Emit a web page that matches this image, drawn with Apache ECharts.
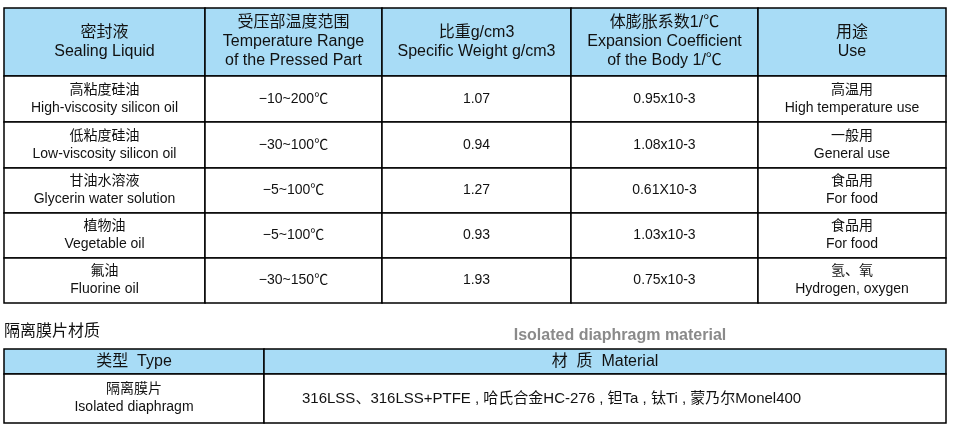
<!DOCTYPE html>
<html><head><meta charset="utf-8">
<script src="https://cdn.jsdelivr.net/npm/echarts@6/dist/echarts.min.js"></script>
<style>html,body{margin:0;padding:0;background:#fff}#main{width:953px;height:429px}</style>
</head><body><div id="main"></div>
<script>
var headers = [['密封液','Sealing Liquid'],['受压部温度范围','Temperature Range','of the Pressed Part'],['比重g/cm3','Specific Weight g/cm3'],['体膨胀系数1/℃','Expansion Coefficient','of the Body 1/℃'],['用途','Use']];
var liquids = [['高粘度硅油','High-viscosity silicon oil'],['低粘度硅油','Low-viscosity silicon oil'],['甘油水溶液','Glycerin water solution'],['植物油','Vegetable oil'],['氟油','Fluorine oil']];
var tempRanges = ['−10~200℃','−30~100℃','−5~100℃','−5~100℃','−30~150℃'];
var weights = ['1.07','0.94','1.27','0.93','1.93'];
var expansions = ['0.95x10-3','1.08x10-3','0.61X10-3','1.03x10-3','0.75x10-3'];
var uses = [['高温用','High temperature use'],['一般用','General use'],['食品用','For food'],['食品用','For food'],['氢、氧','Hydrogen, oxygen']];
var materialHeaders = ['类型  Type','材  质  Material'];
var materialRow = [['隔离膜片','Isolated diaphragm'],'316LSS、316LSS+PTFE , 哈氏合金HC-276 , 钽Ta , 钛Ti , 蒙乃尔Monel400'];

var FONT = '"Liberation Sans", "Noto Sans CJK SC", sans-serif';
var HEAD_BG = '#a8dcf6';
var g = [];
function cell(x, y, w, h, fill) {
  g.push({type:'rect', shape:{x:x, y:y, width:w, height:h}, style:{fill:fill || '#fff', stroke:'#000', lineWidth:1.5}});
}
function txt(cx, cy, lines, size, lh, opts) {
  g.push({type:'text', x:cx, y:cy, style:Object.assign({text:[].concat(lines).join('\n'), fill:'#111', font:size + 'px ' + FONT, lineHeight:lh, align:'center', verticalAlign:'middle'}, opts || {})});
}

// table 1
var colX = [4, 205, 382, 571, 758, 946];
var rowY = [8, 76, 122, 168, 213, 258, 303];
for (var c = 0; c < 5; c++) {
  var cx = (colX[c] + colX[c+1]) / 2, w = colX[c+1] - colX[c];
  cell(colX[c], rowY[0], w, rowY[1] - rowY[0], HEAD_BG);
  txt(cx, (rowY[0] + rowY[1]) / 2, headers[c], 16, 19);
  for (var r = 0; r < 5; r++) {
    cell(colX[c], rowY[r+1], w, rowY[r+2] - rowY[r+1]);
    var val = [liquids[r], tempRanges[r], weights[r], expansions[r], uses[r]][c];
    txt(cx, (rowY[r+1] + rowY[r+2]) / 2, val, 14, 18);
  }
}

// section title
txt(4, 332, '隔离膜片材质', 16, 18, {align:'left'});
txt(620, 336, 'Isolated diaphragm material', 15, 18, {fill:'#8a8a8a', font:'bold 16px ' + FONT});

// table 2
var c2 = [4, 264, 946];
var r2 = [349, 374, 423];
for (var k = 0; k < 2; k++) {
  var wk = c2[k+1] - c2[k], cxk = (c2[k] + c2[k+1]) / 2;
  cell(c2[k], r2[0], wk, r2[1] - r2[0], HEAD_BG);
  txt(cxk, (r2[0] + r2[1]) / 2, materialHeaders[k], 16, 18);
  cell(c2[k], r2[1], wk, r2[2] - r2[1]);
}
txt((c2[0] + c2[1]) / 2, (r2[1] + r2[2]) / 2, materialRow[0], 14, 18);
txt(302, (r2[1] + r2[2]) / 2, materialRow[1], 15, 18, {align:'left'});

var chart = echarts.init(document.getElementById('main'));
chart.setOption({animation:false, graphic:{elements:g}});
</script></body></html>
